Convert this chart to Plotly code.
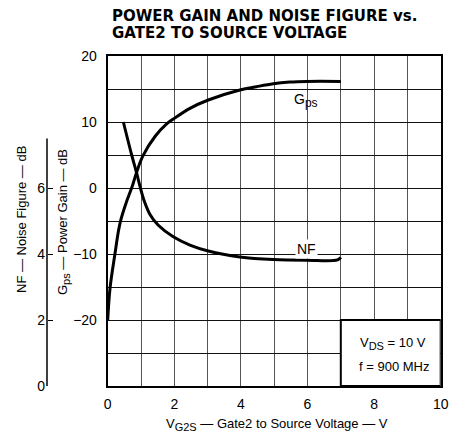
import plotly.graph_objects as go

# ---- data ----
vg2s_gps = [0.0, 0.07, 0.22, 0.32, 0.39, 0.55, 0.74, 0.87, 1.05, 1.42, 1.77, 1.97, 2.47, 3.02, 3.97, 4.47, 4.97, 5.47, 5.98, 7.0]
gps_db   = [-20.0, -15.2, -9.9, -6.6, -4.9, -2.3, 0.3, 2.4, 4.8, 7.8, 9.7, 10.45, 12.07, 13.33, 14.84, 15.35, 15.8, 16.05, 16.15, 16.15]

vg2s_nf = [0.47, 0.72, 0.87, 0.97, 1.1, 1.27, 1.52, 1.97, 2.47, 3.02, 3.97, 4.97, 5.98, 6.9, 7.0]
nf_db   = [8.0, 7.0, 6.45, 6.05, 5.6, 5.2, 4.87, 4.52, 4.27, 4.09, 3.91, 3.83, 3.81, 3.82, 3.9]

x_ticks = [0, 2, 4, 6, 8, 10]
gps_ticks = [-20, -10, 0, 10, 20]
nf_ticks = [0, 2, 4, 6]

FONT = "Liberation Sans, Arial, sans-serif"
W, H = 451, 434
ML, MR, MT, MB = 20, 8, 56, 48
PW = W - ML - MR
PH = H - MT - MB

def px(xpix):
    return (xpix - ML) / PW

def py(ypix):
    return (H - MB - ypix) / PH

def sub(t, size):
    return '<sub><span style="font-size:%dpx">%s</span></sub>' % (size, t)

fig = go.Figure()
fig.add_trace(go.Scatter(x=vg2s_gps, y=gps_db, mode="lines", line=dict(color="black", width=3, shape="spline", smoothing=1.0),
                         xaxis="x", yaxis="y", showlegend=False, hoverinfo="skip"))
fig.add_trace(go.Scatter(x=vg2s_nf, y=nf_db, mode="lines", line=dict(color="black", width=3, shape="spline", smoothing=1.0),
                         xaxis="x", yaxis="y2", showlegend=False, hoverinfo="skip"))

yvals_all = list(range(-30, 21, 5))
ytext = [("\u2212" + str(-v) if v < 0 else str(v)) if v in gps_ticks else " " for v in yvals_all]
xvals_all = list(range(0, 11))
xtext = [str(v) if v in x_ticks else " " for v in xvals_all]

fig.update_layout(
    width=W, height=H,
    margin=dict(l=ML, r=MR, t=MT, b=MB, autoexpand=False),
    paper_bgcolor="white", plot_bgcolor="white",
    font=dict(family=FONT, size=14, color="black"),
    xaxis=dict(domain=[px(107.7), px(440.7)], range=[0, 10], tickmode="array", tickvals=xvals_all, ticktext=xtext,
               showgrid=True, gridcolor="#555", gridwidth=1, showline=True, linecolor="black", linewidth=2,
               mirror=True, ticks="", zeroline=False, ticklabelstandoff=4, automargin=False),
    yaxis=dict(range=[-30, 20], tickmode="array", tickvals=yvals_all, ticktext=ytext,
               showgrid=True, gridcolor="#111", gridwidth=1.3, showline=True, linecolor="black", linewidth=2,
               mirror=True, ticks="", zeroline=False, ticklabelstandoff=6, automargin=False),
    yaxis2=dict(range=[0, 10], overlaying="y", anchor="free", position=px(47), side="left",
                tickmode="array", tickvals=nf_ticks, ticks="inside", ticklen=5, tickwidth=1.3, tickcolor="black",
                showgrid=False, showline=False, zeroline=False, ticklabelstandoff=2, automargin=False),
)

shapes = [
    # NF axis line (0 .. 7.5)
    dict(type="line", xref="paper", yref="y2", x0=px(47), x1=px(47), y0=0, y1=7.5, line=dict(color="black", width=1.5)),
    # condition box
    dict(type="rect", xref="x", yref="y", x0=7, x1=10, y0=-30, y1=-20, fillcolor="white",
         line=dict(color="black", width=2), layer="above"),
]
fig.update_layout(shapes=shapes)

ann = [
    dict(text="<b>POWER GAIN AND NOISE FIGURE vs.</b>", xref="paper", yref="paper", x=px(110), y=py(16),
         xanchor="left", yanchor="middle", showarrow=False, font=dict(family="DejaVu Sans", size=15)),
    dict(text="<b>GATE2 TO SOURCE VOLTAGE</b>", xref="paper", yref="paper", x=px(110), y=py(33),
         xanchor="left", yanchor="middle", showarrow=False, font=dict(family="DejaVu Sans", size=15)),
    dict(text="V" + sub("G2S", 11) + " \u2014 Gate2 to Source Voltage \u2014 V", xref="paper", yref="paper", x=px(277), y=py(424),
         xanchor="center", yanchor="middle", showarrow=False, font=dict(size=13)),
    dict(text="G" + sub("ps", 11) + " \u2014 Power Gain \u2014 dB", xref="paper", yref="paper", x=px(63), y=py(222),
         xanchor="center", yanchor="middle", textangle=-90, showarrow=False, font=dict(size=13)),
    dict(text="NF \u2014 Noise Figure \u2014 dB", xref="paper", yref="paper", x=px(21), y=py(220),
         xanchor="center", yanchor="middle", textangle=-90, showarrow=False, font=dict(size=13)),
    dict(text="V" + sub("DS", 11) + " = 10 V", xref="x", yref="y", x=8.57, y=-23.5, showarrow=False, font=dict(size=13)),
    dict(text="f = 900 MHz", xref="x", yref="y", x=8.6, y=-27.0, showarrow=False, font=dict(size=13)),
    dict(text="G" + sub("ps", 12), xref="x", yref="y", x=5.95, y=13.3, showarrow=False, font=dict(size=14)),
    dict(text="NF", xref="x", yref="y", x=5.97, y=-9.2, showarrow=False, font=dict(size=14), bgcolor="white", borderpad=1),
]
fig.update_layout(annotations=ann)

fig.write_html("out.html", config={"displayModeBar": False},
               post_script="document.body.style.margin='0';document.body.style.overflow='hidden';")
